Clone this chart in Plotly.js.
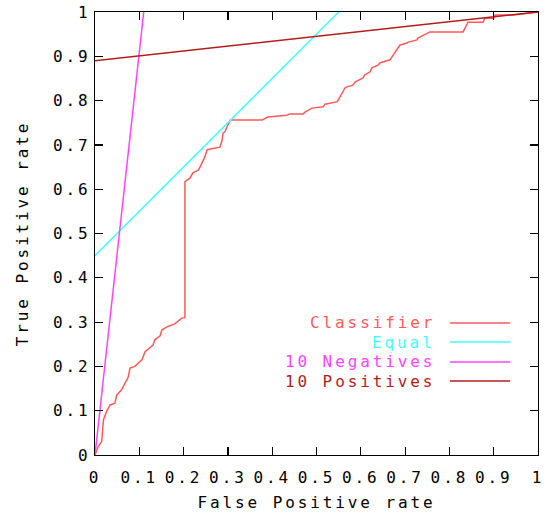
<!DOCTYPE html>
<html>
<head>
<meta charset="utf-8">
<script src="https://cdn.plot.ly/plotly-3.0.1.min.js"></script>
<style>
  html, body { margin: 0; padding: 0; background: #fff; }
  svg text { letter-spacing: 2.9px !important; }
</style>
</head>
<body>
<div id="chart" style="width:546px;height:512px;"></div>
<script>
// ---- data ----
const classifierX = [0, 0.007, 0.015, 0.017, 0.019, 0.026, 0.034, 0.045, 0.049, 0.06, 0.068, 0.075, 0.079, 0.09, 0.10, 0.106, 0.113, 0.131, 0.135, 0.147, 0.151, 0.162, 0.18, 0.196, 0.203, 0.203, 0.214, 0.221, 0.233, 0.237, 0.248, 0.253, 0.282, 0.287, 0.289, 0.293, 0.300, 0.305, 0.377, 0.39, 0.433, 0.44, 0.47, 0.474, 0.49, 0.515, 0.519, 0.546, 0.549, 0.564, 0.569, 0.582, 0.587, 0.605, 0.609, 0.621, 0.625, 0.639, 0.643, 0.666, 0.670, 0.684, 0.688, 0.704, 0.707, 0.727, 0.729, 0.752, 0.756, 0.831, 0.84, 0.842, 0.876, 0.88, 0.9, 0.903, 0.944, 0.97, 1];
const classifierY = [0, 0.019, 0.03, 0.06, 0.079, 0.098, 0.113, 0.117, 0.135, 0.147, 0.162, 0.176, 0.196, 0.2, 0.21, 0.215, 0.233, 0.248, 0.26, 0.269, 0.282, 0.289, 0.296, 0.309, 0.31, 0.617, 0.625, 0.637, 0.643, 0.65, 0.673, 0.689, 0.695, 0.711, 0.727, 0.729, 0.745, 0.756, 0.756, 0.763, 0.767, 0.77, 0.77, 0.774, 0.783, 0.786, 0.792, 0.797, 0.801, 0.828, 0.831, 0.835, 0.842, 0.851, 0.858, 0.865, 0.874, 0.88, 0.885, 0.892, 0.898, 0.921, 0.925, 0.93, 0.932, 0.937, 0.941, 0.953, 0.955, 0.955, 0.975, 0.977, 0.977, 0.986, 0.986, 0.993, 0.993, 0.996, 1];
const equalX = [0, 0.55];
const equalY = [0.45, 1];
const negativesX = [0, 0.11];
const negativesY = [0, 1];
const positivesX = [0, 1];
const positivesY = [0.89, 1];

const seriesNames = ["Classifier", "Equal", "10 Negatives", "10 Positives"];
const seriesColors = ["#ff5a5a", "#44ffff", "#ff44ff", "#b41c1c"];
const tickVals = [0, 0.1, 0.2, 0.3, 0.4, 0.5, 0.6, 0.7, 0.8, 0.9, 1];

const FONT = "DejaVu Sans Mono, monospace";

const series = [
  [classifierX, classifierY],
  [equalX, equalY],
  [negativesX, negativesY],
  [positivesX, positivesY]
];

const traces = series.map((s, i) => ({
  x: s[0], y: s[1], type: "scatter", mode: "lines",
  name: seriesNames[i], line: { color: seriesColors[i], width: 1.5 },
  showlegend: false, hoverinfo: "skip", cliponaxis: true
}));

// gnuplot-style legend: text right-aligned, then line sample
const legRowY = [0.298, 0.255, 0.21, 0.167];
const annotations = seriesNames.map((n, i) => ({
  xref: "paper", yref: "paper", x: 0.772, y: legRowY[i],
  xanchor: "right", yanchor: "middle", showarrow: false,
  text: n, font: { family: FONT, size: 16, color: seriesColors[i] }
}));
const shapes = seriesNames.map((n, i) => ({
  type: "line", xref: "paper", yref: "paper",
  x0: 0.801, x1: 0.937, y0: legRowY[i], y1: legRowY[i],
  line: { color: seriesColors[i], width: 1.5 }
}));

const axisCommon = {
  range: [0, 1], tickvals: tickVals, ticks: "inside", ticklen: 8,
  tickcolor: "#000", tickwidth: 1.2, showline: true, linecolor: "#000",
  linewidth: 1.2, mirror: "allticks", showgrid: false, zeroline: false,
  tickfont: { family: FONT, size: 16, color: "#000" }
};

const layout = {
  width: 546, height: 512,
  margin: { l: 95, r: 8, t: 12, b: 57 },
  paper_bgcolor: "#fff", plot_bgcolor: "#fff",
  font: { family: FONT, size: 16, color: "#000" },
  xaxis: Object.assign({}, axisCommon, {
    ticklabelstandoff: 8,
    title: { text: "False Positive rate", font: { family: FONT, size: 16 }, standoff: 11 }
  }),
  yaxis: Object.assign({}, axisCommon, {
    title: { text: "True Positive rate", font: { family: FONT, size: 16 }, standoff: 20 }
  }),
  annotations: annotations,
  shapes: shapes
};

Plotly.newPlot("chart", traces, layout, { staticPlot: true, displayModeBar: false });
</script>
</body>
</html>
